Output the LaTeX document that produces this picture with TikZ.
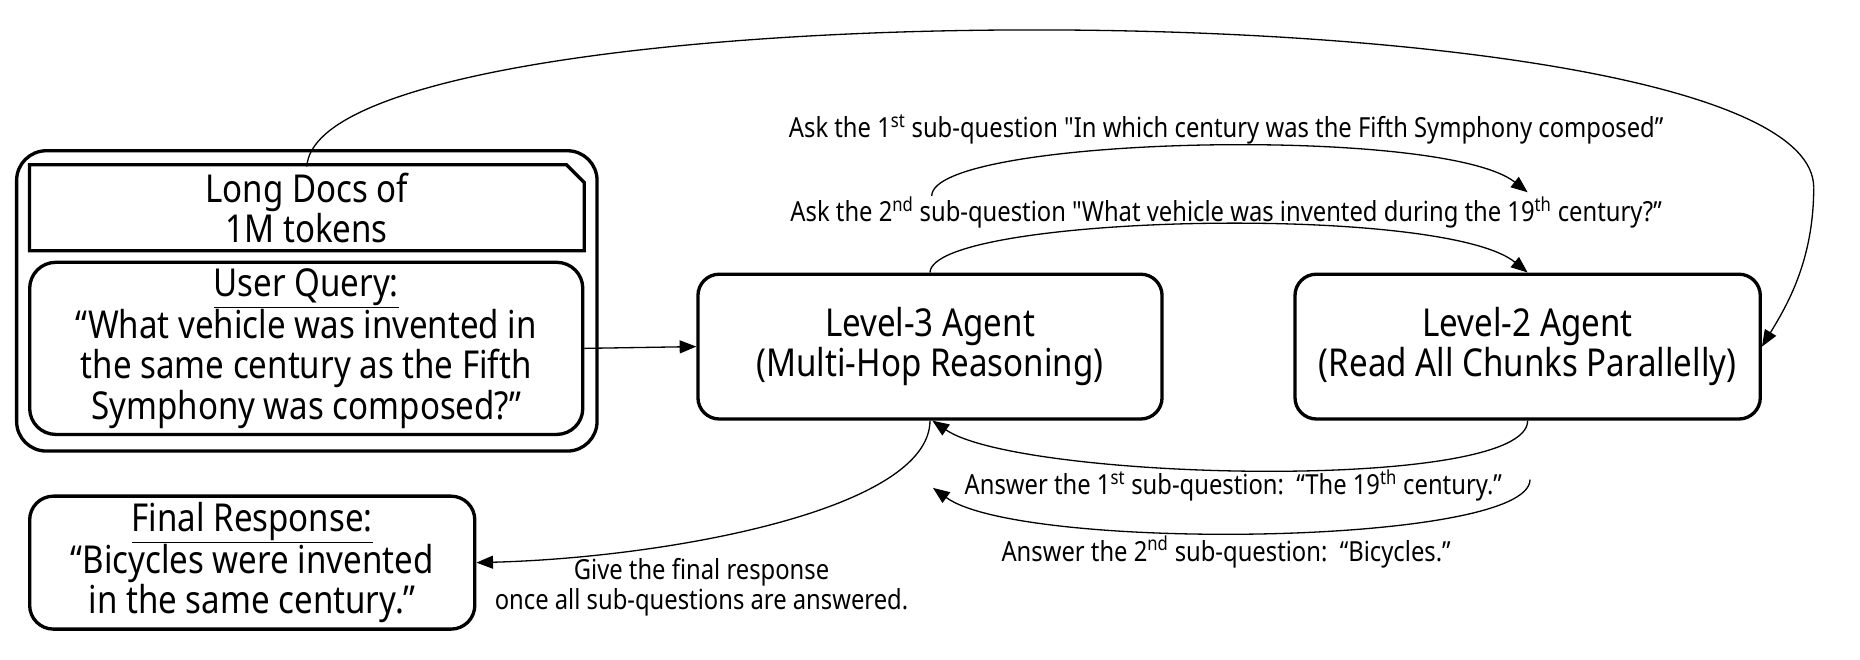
\documentclass[tikz,border=0pt]{standalone}
\usepackage{fontspec}
\setmainfont[FakeStretch=0.86]{Noto Sans}
\newfontfamily\rawq[FakeStretch=0.86, Ligatures=ResetAll]{Noto Sans}
\usetikzlibrary{arrows.meta}
\newcommand\bigfnt{\fontsize{32.4}{34}\selectfont}
\newcommand\smallfnt{\fontsize{23.3}{25}\selectfont}
\newcommand\sq{{\rawq"}}
\begin{document}
\begin{tikzpicture}[x=1pt,y=-1pt,
  box/.style={draw, line width=2.8pt, rounded corners=18pt, inner sep=0pt, align=center, font=\bigfnt},
  plain/.style={inner sep=0pt, align=center, font=\bigfnt},
  conn/.style={line width=1.1pt, -{Triangle[length=14pt,width=11pt]}},
  lbl/.style={font=\smallfnt, inner sep=0pt, align=center}]
\useasboundingbox (0,0) rectangle (1567,556);
% outer container
\node[draw, line width=2.8pt, rounded corners=25pt, minimum width=489pt, minimum height=253pt] (outer) at (258.5,253.5) {};
% long docs (cut corner)
\node[plain, minimum width=467pt, minimum height=69pt] (docs) at (258.5,175) {Long Docs of\\1M tokens};
\draw[line width=2.8pt, line join=miter] ([yshift=1.5pt]docs.north west) -- ([xshift=-15pt,yshift=1.5pt]docs.north east) -- ([yshift=-13.5pt]docs.north east) -- ([yshift=-1.5pt]docs.south east) -- ([yshift=-1.5pt]docs.south west) -- cycle;
% user query
\node[box, rounded corners=22pt, minimum width=466pt, minimum height=145pt] (query) at (258,293.5)
  {\underline{User Query:}\\“What vehicle was invented in\\the same century as the Fifth\\Symphony was composed?”};
% agents
\node[box, minimum width=391pt, minimum height=122pt] (L3) at (783.5,292) {Level-3 Agent\\(Multi-Hop Reasoning)};
\node[box, minimum width=392pt, minimum height=122pt] (L2) at (1287,292) {Level-2 Agent\\(Read All Chunks Parallelly)};
% final response
\node[box, rounded corners=20pt, minimum width=375pt, minimum height=112pt] (final) at (212.5,474)
  {\underline{Final Response:}\\“Bicycles were invented\\in the same century.”};
% labels
\node[lbl] (ask1) at (1033,109) {Ask the 1\textsuperscript{st} sub-question \sq In which century was the Fifth Symphony composed”};
\node[lbl] (ask2) at (1033,179) {Ask the 2\textsuperscript{nd} sub-question \sq What vehicle was invented during the 19\textsuperscript{th} century?”};
\node[lbl] (ans1) at (1039,409) {Answer the 1\textsuperscript{st} sub-question:\ \ “The 19\textsuperscript{th} century.”};
\node[lbl] (ans2) at (1033,465) {Answer the 2\textsuperscript{nd} sub-question:\ \ “Bicycles.”};
\node[lbl] (give) at (591,495) {Give the final response\\once all sub-questions are answered.};
% free ends
\coordinate (a1s) at (785,165);
\coordinate (a1e) at (1287,162);
\coordinate (r2s) at (1289,404);
\coordinate (r2e) at (786,411);
\coordinate (bigmid) at (1528,158);
% connectors
\draw[line width=1.1pt] (docs.north) .. controls (268,-16) and (1528,-16) .. (bigmid);
\draw[conn] (bigmid) .. controls (1528,220) and (1505,258) .. (L2.east);
\draw[conn] (query.east) -- (L3.west);
\draw[conn] (a1s) .. controls (785,115) and (1215,105) .. (a1e);
\draw[conn] (L3.north) .. controls (785,181) and (1215,171) .. (L2.north);
\draw[conn] (L2.south) .. controls (1287,415) and (860,405) .. ([xshift=2pt]L3.south);
\draw[conn] (r2s) .. controls (1289,460) and (860,465) .. (r2e);
\draw[conn] (L3.south) .. controls (783,430) and (560,470) .. (final.east);
\end{tikzpicture}
\end{document}
